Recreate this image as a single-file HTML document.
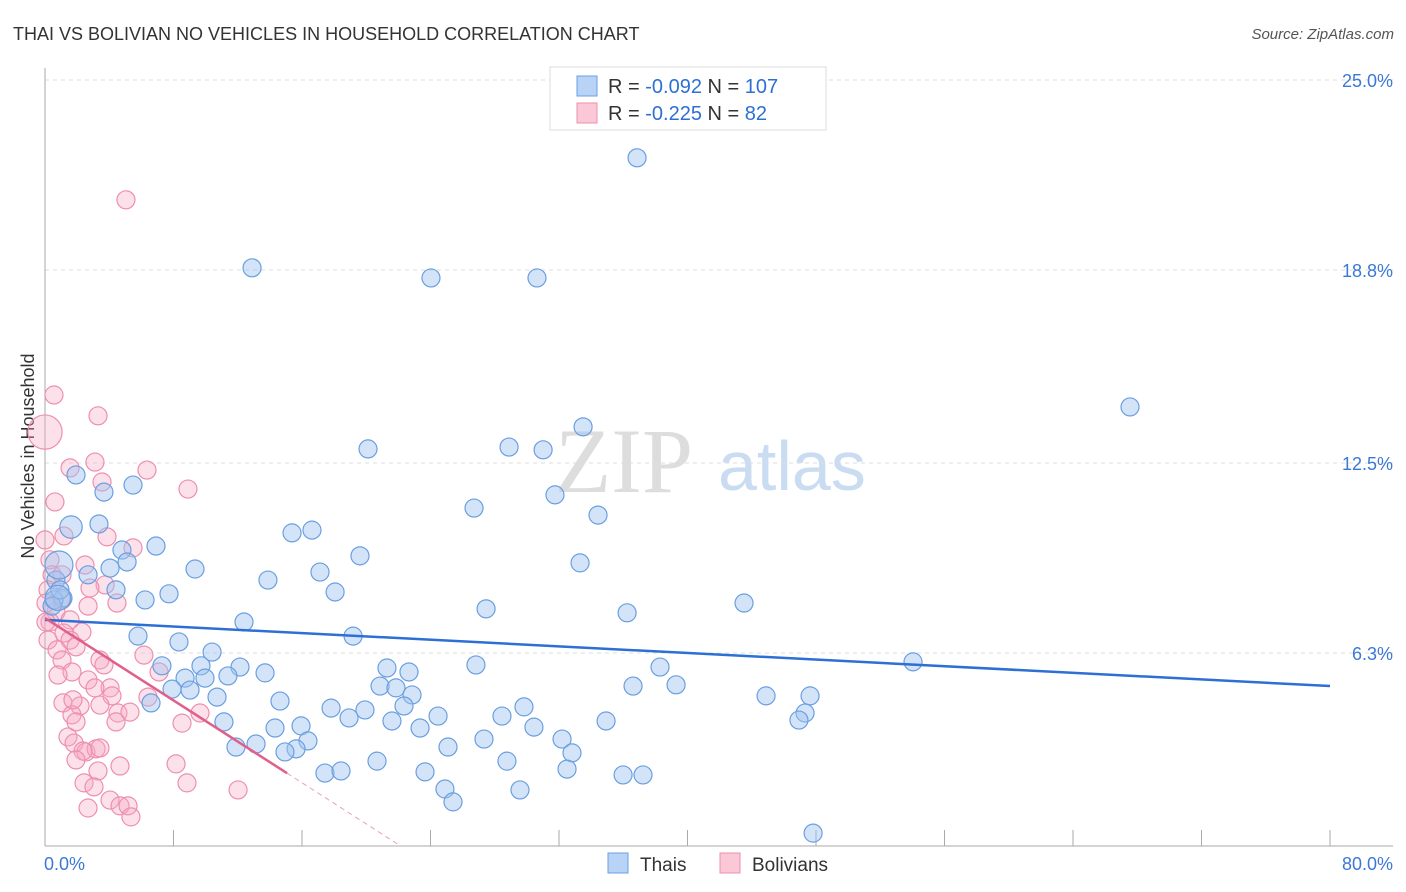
<!DOCTYPE html>
<html><head><meta charset="utf-8"><style>
body{margin:0;background:#fff;font-family:"Liberation Sans",sans-serif}
svg{display:block}
</style></head><body>
<svg id="chart" width="1406" height="892" xmlns="http://www.w3.org/2000/svg">
<text x="13" y="40" font-size="18" fill="#333">THAI VS BOLIVIAN NO VEHICLES IN HOUSEHOLD CORRELATION CHART</text>
<text x="1394" y="39" font-size="15" fill="#555" text-anchor="end" font-style="italic">Source: ZipAtlas.com</text>
<text transform="translate(34,456) rotate(-90)" font-size="18" fill="#333" text-anchor="middle">No Vehicles in Household</text>
<g><text x="555" y="492" font-size="92" fill="#ddd" font-family="Liberation Serif,serif">ZIP</text><text x="718" y="490" font-size="70" fill="#c9dcf2">atlas</text></g>
<g id="grid"></g><g id="axes"></g><g id="pts"></g><g id="lines"></g>
<g>
<rect x="550" y="67" width="276" height="63" fill="#fff" stroke="#ddd"/>
<rect x="577" y="76" width="20" height="20" fill="#b8d3f5" stroke="#6a9fe0"/>
<rect x="577" y="103" width="20" height="20" fill="#fbc8d8" stroke="#ee8fae"/>
<text x="608" y="93" font-size="20" fill="#333">R = <tspan fill="#2d6fd4">-0.092</tspan>   N = <tspan fill="#2d6fd4">107</tspan></text>
<text x="608" y="120" font-size="20" fill="#333">R =  <tspan fill="#2d6fd4">-0.225</tspan>   N =   <tspan fill="#2d6fd4">82</tspan></text>
</g>
<g>
<rect x="608" y="853" width="20" height="20" fill="#b8d3f5" stroke="#6a9fe0"/><text x="640" y="871" font-size="19" fill="#333">Thais</text>
<rect x="720" y="853" width="20" height="20" fill="#fbc8d8" stroke="#ee8fae"/><text x="752" y="871" font-size="19" fill="#333">Bolivians</text>
</g>
</svg>
<script>
const yTicks=[25.0,18.8,12.5,6.3];
const yTickLabels=["25.0%","18.8%","12.5%","6.3%"];
const xTicks=[0,8,16,24,32,40,48,56,64,72,80];
const xEndLabels=["0.0%","80.0%"];
const thaiX=[36.86,12.89,24.03,30.63,67.55,33.50,20.11,28.89,31.01,1.93,5.48,3.67,31.75,26.71,34.43,3.36,15.38,16.62,6.91,4.79,19.61,33.31,5.11,4.05,9.34,2.68,17.12,13.88,4.42,7.72,18.06,6.23,1.12,0.56,0.44,27.46,36.24,43.52,12.39,5.79,19.18,8.34,10.40,7.28,9.71,12.14,13.70,21.29,22.66,26.83,38.29,54.04,8.72,11.39,9.96,7.91,9.03,20.86,21.85,22.85,36.61,39.29,44.89,47.63,10.71,6.60,14.63,22.35,29.82,17.81,19.92,18.93,24.47,28.45,11.14,34.93,21.60,14.32,15.94,23.35,30.44,47.32,46.94,27.33,16.37,13.14,11.89,15.63,32.19,25.09,32.81,14.94,20.67,28.76,32.50,17.43,18.43,23.66,35.99,37.23,24.90,29.57,25.40,47.82,0.68,0.93];
const thaiY=[22.46,18.87,18.54,18.54,14.33,13.68,12.96,13.02,12.93,12.11,11.78,11.55,11.46,11.03,10.80,10.51,10.22,10.31,9.79,9.66,9.47,9.24,9.27,9.07,9.04,8.85,8.94,8.68,8.36,8.23,8.29,8.03,8.09,8.03,7.83,7.74,7.61,7.93,7.31,6.85,6.85,6.66,6.33,5.88,5.88,5.84,5.65,5.81,5.68,5.91,5.84,6.01,5.48,5.55,5.48,5.12,5.09,5.22,5.16,4.93,5.22,5.26,4.90,4.90,4.86,4.67,4.73,4.57,4.54,4.50,4.44,4.18,4.24,4.24,4.05,4.08,4.08,3.85,3.92,3.85,3.88,4.34,4.11,3.49,3.43,3.33,3.23,3.17,3.49,3.23,3.04,3.07,2.77,2.77,2.51,2.38,2.45,2.42,2.32,2.32,1.86,1.83,1.44,0.42,8.68,8.36];
const thaiBigX=[0.87,1.62,0.8];
const thaiBigY=[9.17,10.41,8.1];
const thaiBigSize=[2,1.6,1.8];
const bolX=[5.04,0.56,3.30,1.56,3.11,6.35,8.90,3.55,0.62,0,3.86,1.18,5.48,0.31,2.49,0.44,1.06,3.74,2.80,0.19,1.06,2.68,4.48,0.68,0.31,1.56,1.18,2.30,0.19,1.56,0.75,3.42,1.93,1.06,6.16,3.67,1.68,0.81,7.10,2.68,4.05,3.11,4.17,6.41,1.12,2.18,1.68,4.54,5.29,3.42,8.53,1.93,1.43,1.81,4.42,2.55,3.18,3.42,2.37,1.93,3.30,4.67,8.16,8.84,12.02,2.43,3.05,4.05,4.67,5.17,2.68,5.35,9.65,0.06,0.06,1.74];
const bolY=[21.09,14.72,14.04,12.34,12.53,12.27,11.65,11.88,11.23,9.99,10.09,10.12,9.73,9.34,9.17,8.85,8.85,8.52,8.42,8.36,8.03,7.83,7.93,7.64,7.31,7.38,6.95,6.98,6.72,6.72,6.40,6.07,6.50,6.07,6.23,5.91,5.68,5.58,5.68,5.42,5.16,5.16,4.90,4.86,4.67,4.57,4.28,4.34,4.37,4.60,4.01,4.05,3.56,3.36,4.05,3.07,3.17,3.20,3.10,2.81,2.45,2.61,2.68,2.06,1.83,2.06,1.93,1.50,1.31,1.31,1.24,0.95,4.34,7.93,7.31,4.77];
const bolBigX=[0];
const bolBigY=[13.51];
const bolBigSize=[1.9];
const thaiTrend=[7.38,5.22];   // y at x=0 and x=80
const bolTrend=[7.44,-0.336];  // intercept, slope
const bolSolidEnd=15.07;

const L=45,R=1330,T=80,B=846;
const sx=v=>L+v/80*(R-L), sy=v=>B-v/25*(B-T);
const NS="http://www.w3.org/2000/svg";
function mk(p,tag,a){const e=document.createElementNS(NS,tag);for(const k in a)e.setAttribute(k,a[k]);p.appendChild(e);return e;}
const grid=document.getElementById('grid'),axes=document.getElementById('axes'),pts=document.getElementById('pts'),lines=document.getElementById('lines');
yTicks.forEach((t,i)=>{
 const g=mk(grid,'line',{x1:L,x2:1393,y1:sy(t),y2:sy(t),stroke:'#ddd','stroke-dasharray':'4,4'});
 
 
 const tx=mk(axes,'text',{x:1393,y:sy(t)+7,'font-size':18,fill:'#3b78d8','text-anchor':'end'});
 tx.textContent=yTickLabels[i];
 
 
});
const xa=mk(axes,'line',{x1:L,x2:1393,y1:B,y2:B,stroke:'#aaa'});


const ya=mk(axes,'line',{x1:L,x2:L,y1:68,y2:B,stroke:'#aaa'});


xTicks.forEach(t=>{
 const e=mk(axes,'line',{x1:sx(t),x2:sx(t),y1:B,y2:B-16,stroke:'#aaa'});
 
 
});
const xl0=mk(axes,'text',{x:44,y:870,'font-size':18,fill:'#3b78d8'});xl0.textContent=xEndLabels[0];


const xl1=mk(axes,'text',{x:1393,y:870,'font-size':18,fill:'#3b78d8','text-anchor':'end'});xl1.textContent=xEndLabels[1];


function dot(x,y,r,blue){
 const c=mk(pts,'circle',{cx:sx(x),cy:sy(y),r:r,fill:blue?'rgba(160,196,240,0.45)':'rgba(246,170,196,0.35)',stroke:blue?'#6a9fe0':'#ee8fae','stroke-width':1.2});
 
 
}
bolX.forEach((x,i)=>dot(x,bolY[i],9,false));
bolBigX.forEach((x,i)=>dot(x,bolBigY[i],9*bolBigSize[i],false));
thaiX.forEach((x,i)=>dot(x,thaiY[i],9,true));
thaiBigX.forEach((x,i)=>dot(x,thaiBigY[i],7*thaiBigSize[i],true));
const tl=mk(lines,'line',{x1:sx(0),y1:sy(thaiTrend[0]),x2:sx(80),y2:sy(thaiTrend[1]),stroke:'#2d6fd4','stroke-width':2.5});


const bz=-bolTrend[0]/bolTrend[1];
const bl=mk(lines,'line',{x1:sx(0),y1:sy(bolTrend[0]),x2:sx(bolSolidEnd),y2:sy(bolTrend[0]+bolTrend[1]*bolSolidEnd),stroke:'#e0608a','stroke-width':2.5});


const bd=mk(lines,'line',{x1:sx(bolSolidEnd),y1:sy(bolTrend[0]+bolTrend[1]*bolSolidEnd),x2:sx(bz),y2:sy(0),stroke:'#e8a0b8','stroke-width':1,'stroke-dasharray':'5,4'});


</script>
</body></html>
